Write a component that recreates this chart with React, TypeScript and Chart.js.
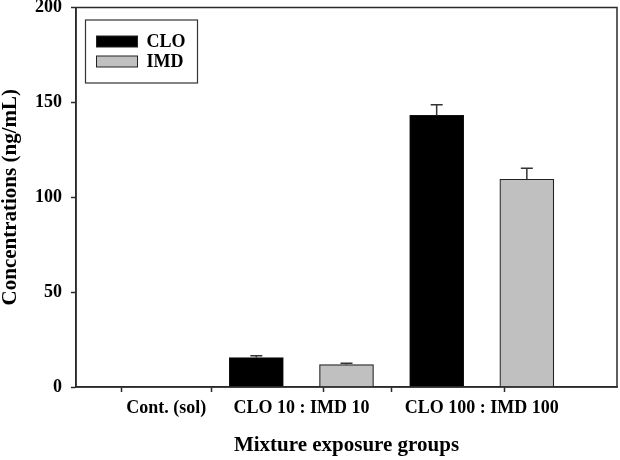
import React, { useEffect, useRef } from "react";
import { Chart, registerables } from "chart.js";

Chart.register(...registerables);

// ---- data ----
const categories = ["Cont. (sol)", "CLO 10 : IMD 10", "CLO 100 : IMD 100"];
const categoryPositions = [1, 2.5, 4.5]; // group centres on the x scale
const cloPositions = [1, 2, 4];
const imdPositions = [1, 3, 5];
const cloValues = [0, 15.5, 143.2];
const cloErrors = [0, 1.0, 5.6];
const imdValues = [0, 11.8, 109.5];
const imdErrors = [0, 0.7, 5.8];
const yTicks = [0, 50, 100, 150, 200];
const seriesNames = ["CLO", "IMD"];

const FONT = "'Liberation Serif', 'Times New Roman', serif";
const AXIS = "#2a2a2a";
const CLO_COLOR = "#000000";
const IMD_COLOR = "#c0c0c0";

const barPositions = Array.from(new Set([...cloPositions, ...imdPositions])).sort((a, b) => a - b);
const xTickValues = Array.from(new Set([...barPositions, ...categoryPositions])).sort((a, b) => a - b);

const errorBars = {
  id: "errorBars",
  afterDatasetsDraw(chart: any) {
    const { ctx } = chart;
    const y = chart.scales.y;
    ctx.save();
    ctx.strokeStyle = "#333";
    ctx.lineWidth = 1.5;
    chart.data.datasets.forEach((ds: any, di: number) => {
      const meta = chart.getDatasetMeta(di);
      meta.data.forEach((el: any, i: number) => {
        const err = ds.errors[i];
        const v = ds.data[i].y;
        if (!err) return;
        const top = y.getPixelForValue(v + err);
        const base = y.getPixelForValue(v);
        ctx.beginPath();
        ctx.moveTo(el.x, base);
        ctx.lineTo(el.x, top);
        ctx.moveTo(el.x - 6, top);
        ctx.lineTo(el.x + 6, top);
        ctx.stroke();
      });
    });
    ctx.restore();
  },
};

const frameAndLegend = {
  id: "frameAndLegend",
  afterDraw(chart: any) {
    const { ctx, chartArea: a } = chart;
    ctx.save();
    ctx.strokeStyle = AXIS;
    ctx.lineWidth = 1.5;
    ctx.strokeRect(a.left, a.top, a.right - a.left, a.bottom - a.top);

    // legend box
    const lx = a.left + 9.5;
    const ly = a.top + 12.5;
    ctx.lineWidth = 1.2;
    ctx.strokeStyle = "#333";
    ctx.strokeRect(lx, ly, 112, 63);
    ctx.font = `bold 18px ${FONT}`;
    ctx.textBaseline = "middle";
    ctx.textAlign = "left";
    chart.data.datasets.forEach((ds: any, i: number) => {
      const sy = ly + 16 + i * 20;
      ctx.fillStyle = ds.backgroundColor;
      ctx.fillRect(lx + 11, sy, 41, 11);
      ctx.lineWidth = 1;
      ctx.strokeStyle = "#222";
      ctx.strokeRect(lx + 11, sy, 41, 11);
      ctx.fillStyle = "#000";
      ctx.fillText(ds.label, lx + 61, sy + 6);
    });
    ctx.restore();
  },
};

export default function App() {
  const ref = useRef<HTMLCanvasElement>(null);

  useEffect(() => {
    if (!ref.current) return;
    const mk = (pos: number[], vals: number[]) => pos.map((p, i) => ({ x: p, y: vals[i] }));
    const chart = new Chart(ref.current, {
      type: "bar",
      data: {
        datasets: [
          {
            label: seriesNames[0],
            data: mk(cloPositions, cloValues) as any,
            errors: cloErrors,
            backgroundColor: CLO_COLOR,
            borderColor: "#111",
            borderWidth: (c: any) => (c.raw && c.raw.y ? 1 : 0),
            borderSkipped: "bottom",
          } as any,
          {
            label: seriesNames[1],
            data: mk(imdPositions, imdValues) as any,
            errors: imdErrors,
            backgroundColor: IMD_COLOR,
            borderColor: "#222",
            borderWidth: (c: any) => (c.raw && c.raw.y ? 1.2 : 0),
            borderSkipped: "bottom",
          } as any,
        ],
      },
      options: {
        animation: false,
        responsive: false,
        grouped: false,
        barThickness: 54,
        layout: { padding: { top: 7.5, right: 3, left: 0, bottom: 0 } },
        plugins: { legend: { display: false }, tooltip: { enabled: false } },
        scales: {
          x: {
            type: "linear",
            min: 0,
            max: 6,
            offset: false,
            afterBuildTicks: (s: any) => {
              s.ticks = xTickValues.map((v) => ({ value: v }));
            },
            afterFit: (s: any) => {
              s.height = 73;
              s.paddingLeft = 0;
              s.paddingRight = 0;
            },
            ticks: {
              autoSkip: false,
              maxRotation: 0,
              padding: 6,
              color: "#000",
              font: { family: FONT, size: 18, weight: "bold" },
              callback: (v: any) => {
                const i = categoryPositions.indexOf(Number(v));
                return i >= 0 ? categories[i] : "";
              },
            },
            grid: {
              drawOnChartArea: false,
              drawTicks: true,
              tickLength: 5,
              tickWidth: 1.5,
              tickColor: (c: any) =>
                c.tick && barPositions.includes(c.tick.value) ? AXIS : "rgba(0,0,0,0)",
            },
            border: { color: AXIS, width: 1.5 },
            title: {
              display: true,
              text: "Mixture exposure groups",
              color: "#000",
              font: { family: FONT, size: 21, weight: "bold", lineHeight: 1.2 },
              padding: { top: 0, bottom: 2 },
            },
          },
          y: {
            min: 0,
            max: 200,
            afterBuildTicks: (s: any) => {
              s.ticks = yTicks.map((v) => ({ value: v }));
            },
            afterFit: (s: any) => {
              s.width = 76;
              s.paddingTop = 0;
              s.paddingBottom = 0;
            },
            ticks: {
              padding: 9,
              color: "#000",
              font: { family: FONT, size: 18, weight: "bold" },
            },
            grid: {
              drawOnChartArea: false,
              drawTicks: true,
              tickLength: 5,
              tickWidth: 1.5,
              tickColor: AXIS,
            },
            border: { color: AXIS, width: 1.5 },
            title: {
              display: true,
              text: "Concentrations (ng/mL)",
              color: "#000",
              font: { family: FONT, size: 21, weight: "bold", lineHeight: 1.05 },
              padding: { top: 0, bottom: 0 },
            },
          },
        },
      } as any,
      plugins: [errorBars, frameAndLegend],
    });
    return () => chart.destroy();
  }, []);

  return (
    <div style={{ position: "fixed", left: 0, top: 0, width: 620, height: 460, background: "#fff" }}>
      <canvas ref={ref} width={620} height={460} />
    </div>
  );
}
